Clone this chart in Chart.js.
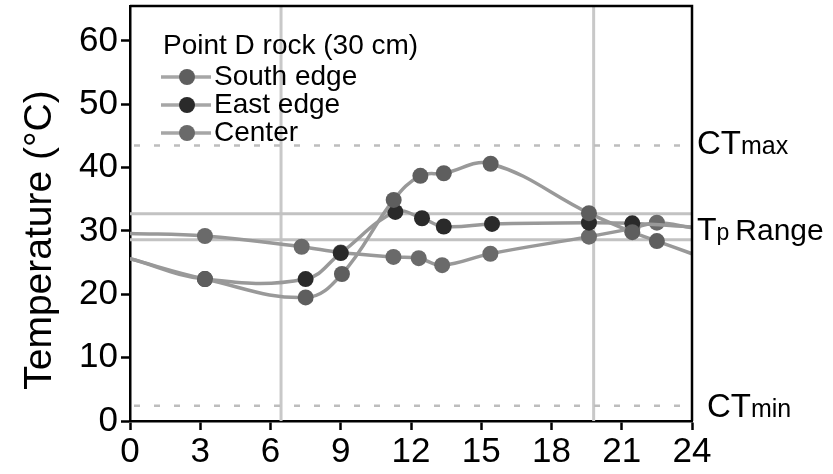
<!DOCTYPE html>
<html>
<head>
<meta charset="utf-8">
<script src="https://cdn.jsdelivr.net/npm/chart.js@4.4.1/dist/chart.umd.min.js"></script>
<style>
  html, body { margin: 0; padding: 0; background: #fff; }
  #wrap { width: 833px; height: 474px; }
</style>
</head>
<body>
<div id="wrap"><canvas id="c" width="833" height="474"></canvas></div>
<script>
// Rock surface temperatures over a day, point D (30 cm)
const legendTitle = 'Point D rock (30 cm)';
const yTitle = 'Temperature (°C)';
const xTicks = [0, 3, 6, 9, 12, 15, 18, 21, 24];
const yTicks = [0, 10, 20, 30, 40, 50, 60];

const southHours  = [0, 3.2, 7.5, 9.05, 11.26, 12.4, 13.4, 15.4, 19.6, 21.45, 22.5, 24];
const southTemps  = [25.6, 22.4, 19.5, 23.2, 34.9, 38.7, 39.1, 40.6, 32.8, 29.8, 28.4, 26.4];

const eastHours   = [0, 3.2, 7.5, 9.0, 11.33, 12.47, 13.4, 15.46, 19.6, 21.45, 24];
const eastTemps   = [25.6, 22.4, 22.4, 26.5, 33.0, 32.0, 30.7, 31.1, 31.3, 31.2, 30.6];

const centerHours = [0, 3.2, 7.33, 9.0, 11.25, 12.33, 13.33, 15.39, 19.6, 21.45, 22.5, 24];
const centerTemps = [29.6, 29.2, 27.5, 26.6, 25.9, 25.7, 24.6, 26.4, 29.1, 30.4, 31.3, 30.5];

// Critical thermal limits and preferred range
const ctMax = 43.5;
const ctMin = 2.4;
const tpRange = [28.6, 32.7];
// Sunrise / sunset
const dayMarks = [6.45, 19.8];

const FONT = '"Liberation Sans", Arial, Helvetica, sans-serif';

function pts(hours, temps) {
  return hours.map((h, i) => ({ x: h, y: temps[i] }));
}

function series(label, hours, temps, markColor) {
  return {
    label,
    data: pts(hours, temps),
    borderColor: '#999999',
    borderWidth: 3.5,
    tension: 0.4,
    fill: false,
    pointBackgroundColor: markColor,
    pointBorderColor: markColor,
    pointBorderWidth: 0,
    pointRadius: ctx => (ctx.raw && (ctx.raw.x === 0 || ctx.raw.x === 24)) ? 0 : 8,
    pointHoverRadius: 8,
    markColor
  };
}

const refLines = {
  id: 'refLines',
  beforeDatasetsDraw(chart) {
    const { ctx, chartArea: a, scales: { x, y } } = chart;
    ctx.save();
    ctx.beginPath();
    ctx.rect(a.left, a.top, a.right - a.left, a.bottom - a.top);
    ctx.clip();
    // day/night boundaries
    ctx.strokeStyle = '#c8c8c8';
    ctx.lineWidth = 3;
    dayMarks.forEach(h => {
      const px = x.getPixelForValue(h);
      ctx.beginPath(); ctx.moveTo(px, a.top); ctx.lineTo(px, a.bottom); ctx.stroke();
    });
    // preferred temperature range
    ctx.strokeStyle = '#c2c2c2';
    ctx.lineWidth = 3;
    tpRange.forEach(t => {
      const py = y.getPixelForValue(t);
      ctx.beginPath(); ctx.moveTo(a.left, py); ctx.lineTo(a.right, py); ctx.stroke();
    });
    // critical limits
    ctx.strokeStyle = '#bdbdbd';
    ctx.lineWidth = 2.5;
    ctx.setLineDash([6, 14]);
    [ctMax, ctMin].forEach(t => {
      const py = y.getPixelForValue(t);
      ctx.beginPath(); ctx.moveTo(a.left + 4, py); ctx.lineTo(a.right, py); ctx.stroke();
    });
    ctx.restore();
  }
};

const frameAndText = {
  id: 'frameAndText',
  afterDraw(chart) {
    const { ctx, chartArea: a, scales: { y } } = chart;
    ctx.save();
    // top and right frame
    ctx.strokeStyle = '#000';
    ctx.lineWidth = 2.5;
    ctx.beginPath();
    ctx.moveTo(a.left, a.top); ctx.lineTo(a.right, a.top); ctx.lineTo(a.right, a.bottom);
    ctx.stroke();

    // y-axis title
    ctx.fillStyle = '#000';
    ctx.font = '39px ' + FONT;
    ctx.textAlign = 'center';
    ctx.textBaseline = 'middle';
    ctx.save();
    ctx.translate(40, 240);
    ctx.rotate(-Math.PI / 2);
    ctx.fillText(yTitle, 0, 0);
    ctx.restore();

    // right-hand labels with subscripts
    const sub = (main, small, val, dx, dy) => {
      const base = y.getPixelForValue(val) + dy;
      ctx.textAlign = 'left';
      ctx.textBaseline = 'alphabetic';
      ctx.font = '33px ' + FONT;
      const x0 = a.right + 5 + dx;
      ctx.fillText(main, x0, base);
      const w = ctx.measureText(main).width;
      ctx.font = '25px ' + FONT;
      ctx.fillText(small, x0 + w, base);
    };
    sub('CT', 'max', ctMax, 0, 9);
    sub('CT', 'min', ctMin, 10, 11);
    // Tp Range
    {
      const base = y.getPixelForValue((tpRange[0] + tpRange[1]) / 2) + 13;
      const x0 = a.right + 5;
      ctx.font = '32px ' + FONT;
      ctx.fillText('T', x0, base);
      let w = ctx.measureText('T').width;
      ctx.font = '23px ' + FONT;
      ctx.fillText('p', x0 + w, base);
      w += ctx.measureText('p').width + 6;
      ctx.font = '30px ' + FONT;
      ctx.fillText('Range', x0 + w, base);
    }

    // legend
    const lx = a.left + 31;
    ctx.font = '28px ' + FONT;
    ctx.textBaseline = 'middle';
    ctx.fillText(legendTitle, lx + 2, 46);
    chart.data.datasets.forEach((ds, i) => {
      const cy = 77 + i * 28;
      ctx.strokeStyle = '#a6a6a6';
      ctx.lineWidth = 3.5;
      ctx.beginPath(); ctx.moveTo(lx, cy); ctx.lineTo(lx + 50, cy); ctx.stroke();
      ctx.fillStyle = ds.markColor;
      ctx.beginPath(); ctx.arc(lx + 26, cy, 8, 0, Math.PI * 2); ctx.fill();
      ctx.fillStyle = '#000';
      ctx.fillText(ds.label, lx + 53, cy);
    });
    ctx.restore();
  }
};

new Chart(document.getElementById('c'), {
  type: 'line',
  data: {
    datasets: [
      series('South edge', southHours, southTemps, '#5e5e5e'),
      series('East edge', eastHours, eastTemps, '#2a2a2a'),
      series('Center', centerHours, centerTemps, '#6a6a6a')
    ]
  },
  options: {
    responsive: false,
    animation: false,
    layout: { padding: { top: 6, right: 141, left: 0, bottom: 0 } },
    plugins: { legend: { display: false }, tooltip: { enabled: false } },
    scales: {
      x: {
        type: 'linear', min: 0, max: 24,
        afterBuildTicks: s => { s.ticks = xTicks.map(v => ({ value: v })); },
        afterFit: s => { s.height = 53; s.paddingLeft = 0; s.paddingRight = 0; },
        grid: { drawOnChartArea: false, drawTicks: true, tickLength: 9, tickWidth: 2.5, tickColor: '#000' },
        border: { display: true, color: '#000', width: 2.5 },
        ticks: { autoSkip: false, maxRotation: 0, padding: 1, color: '#000', font: { family: FONT, size: 35 } }
      },
      y: {
        type: 'linear', min: 0, max: 65.5,
        afterBuildTicks: s => { s.ticks = yTicks.map(v => ({ value: v })); },
        afterFit: s => { s.width = 130; s.paddingTop = 0; s.paddingBottom = 0; },
        grid: { drawOnChartArea: false, drawTicks: true, tickLength: 9, tickWidth: 2.5, tickColor: '#000' },
        border: { display: true, color: '#000', width: 2.5 },
        ticks: { padding: 3, color: '#000', font: { family: FONT, size: 35 } }
      }
    }
  },
  plugins: [refLines, frameAndText]
});
</script>
</body>
</html>
